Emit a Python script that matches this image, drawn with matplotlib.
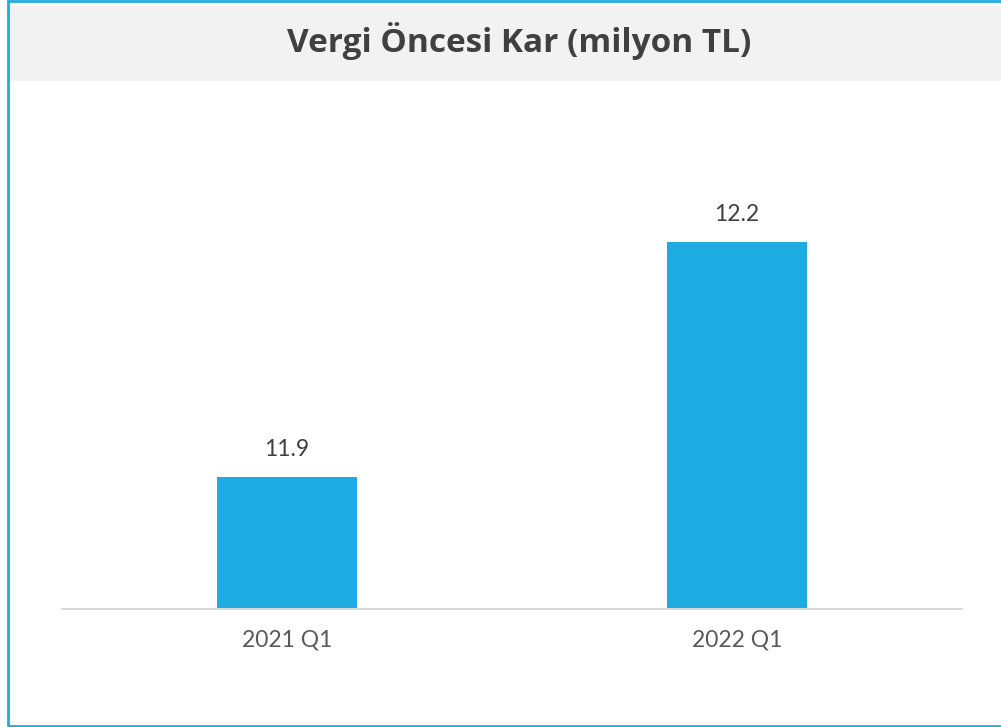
import matplotlib
matplotlib.use("Agg")
import matplotlib.pyplot as plt
from matplotlib.patches import Rectangle

# Pre-tax profit, million TL
categories = ["2021 Q1", "2022 Q1"]
values = [11.9, 12.2]
value_labels = ["11.9", "12.2"]
title = "Vergi Öncesi Kar (milyon TL)"

W, H = 1001, 727
BLUE = "#1eabe2"
fig = plt.figure(figsize=(W / 100, H / 100), dpi=100)
fig.patch.set_facecolor("white")

def fx(px):
    return px / W

def fy(py):
    return 1 - py / H

# Title band and outer frame (open on the right)
fig.patches.append(Rectangle((fx(9), fy(81)), fx(W + 10) - fx(9), fy(6) - fy(81),
                             transform=fig.transFigure, facecolor="#f2f2f2",
                             edgecolor="none", zorder=0))
fig.patches.append(Rectangle((fx(7.5), fy(725.5)), fx(W + 20) - fx(7.5), fy(1) - fy(725.5),
                             transform=fig.transFigure, facecolor="none",
                             edgecolor=BLUE, linewidth=2.0, zorder=1))

fig.text(fx(519), fy(41), title, ha="center", va="center",
         fontsize=24, fontweight="bold", color="#404040", family="Open Sans")

ax_left, ax_right = 62, 962
ax_bottom, ax_top = 608.5, 130
ax = fig.add_axes([fx(ax_left), fy(ax_bottom), fx(ax_right - ax_left), fy(ax_top) - fy(ax_bottom)])
ax.set_facecolor("none")

x = list(range(len(categories)))
bars = ax.bar(x, values, width=0.311, color=BLUE, zorder=2)
ax.set_xlim(-0.5, len(categories) - 0.5)
ax.set_ylim(11.7315, 12.3424)

for b, v, lab in zip(bars, values, value_labels):
    ax.annotate(lab, (b.get_x() + b.get_width() / 2, v),
                xytext=(0, 12), textcoords="offset points", ha="center", va="bottom",
                fontsize=16.5, color="#404040", family="Lato")

ax.set_xticks(x)
ax.set_xticklabels(categories, fontsize=16.5, color="#595959", family="Lato")
ax.tick_params(axis="x", length=0, pad=15)
ax.set_yticks([])
for s in ["top", "right", "left"]:
    ax.spines[s].set_visible(False)
ax.spines["bottom"].set_color("#d9d9d9")
ax.spines["bottom"].set_linewidth(1.5)

fig.savefig("out.png", dpi=100)
